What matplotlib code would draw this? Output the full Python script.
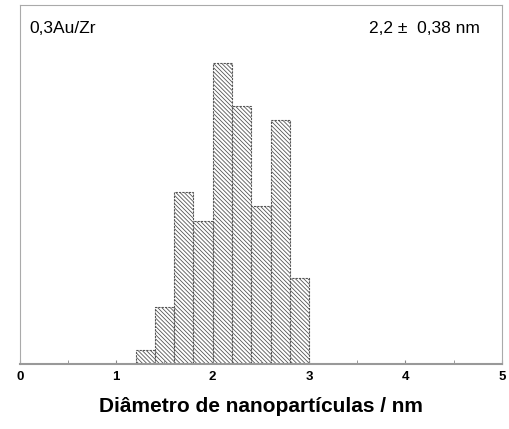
import numpy as np
import matplotlib.pyplot as plt

# bin edges of the histogram (nm) and percentage of particles per bin
bin_left = [1.2, 1.4, 1.6, 1.8, 2.0, 2.2, 2.4, 2.6, 2.8]
freq = [1, 4, 12, 10, 21, 18, 11, 17, 6]
bin_width = 0.2
sample = "0,3Au/Zr"
mean_txt = "2,2 \u00b1  0,38 nm"
xticks = [0, 1, 2, 3, 4, 5]

plt.rcParams['font.family'] = ['Liberation Sans', 'DejaVu Sans']
plt.rcParams['hatch.color'] = '#777777'
plt.rcParams['hatch.linewidth'] = 0.6

fig = plt.figure(figsize=(5.1, 4.29), dpi=100)
ax = fig.add_axes([0.039, 0.151, 0.945, 0.837])

ax.bar(bin_left, freq, width=bin_width, align='edge', color='white',
       edgecolor='#555555', linewidth=0.8, linestyle=(0, (2, 1)), hatch='\\' * 8)

ax.set_xlim(0, 5)
ax.set_ylim(0, 25)
ax.set_yticks([])
ax.set_xticks(xticks)
ax.set_xticklabels([str(t) for t in xticks], fontweight='bold', fontsize=9.5)
ax.set_xticks(np.arange(0.5, 5, 1), minor=True)
ax.tick_params(axis='x', which='both', direction='in', length=3, color='#888888', pad=5)

for s in ['top', 'right', 'left']:
    ax.spines[s].set_color('#aaaaaa')
ax.spines['bottom'].set_color('#999999')
ax.spines['bottom'].set_linewidth(1.5)

ax.text(0.02, 0.955, sample, transform=ax.transAxes, ha='left', va='top', fontsize=12.5)
ax.text(0.955, 0.955, mean_txt, transform=ax.transAxes, ha='right', va='top', fontsize=12.5)

ax.set_xlabel("Diâmetro de nanopartículas / nm", fontsize=15, fontweight='bold', labelpad=10)

fig.savefig('out.png', dpi=100)
